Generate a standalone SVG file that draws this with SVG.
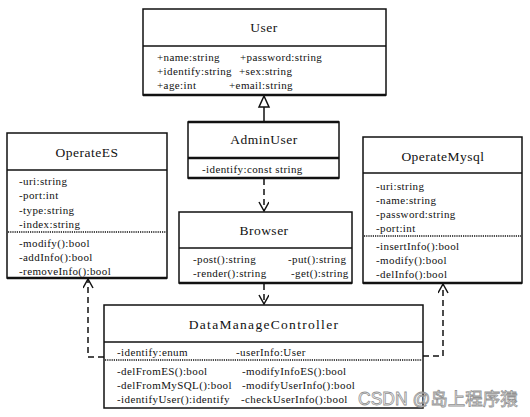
<svg xmlns="http://www.w3.org/2000/svg" width="530" height="417" viewBox="0 0 530 417">
<style>
.box{fill:#fff;stroke:#111;stroke-width:1.5}
.heavy{stroke:#111;stroke-width:2.5}
.div{stroke:#111;stroke-width:1.3}
.dot{stroke:#111;stroke-width:1.5;stroke-dasharray:1.2 1}
.t{font-family:"Liberation Serif","Times New Roman",serif;font-size:13.5px;letter-spacing:0.5px;fill:#111;text-anchor:middle}
.a{font-family:"Liberation Serif","Times New Roman",serif;font-size:11px;letter-spacing:0.4px;fill:#111}
.dash{fill:none;stroke:#111;stroke-width:1.5;stroke-dasharray:6 4}
.solid{fill:none;stroke:#111;stroke-width:1.5}
.wm{font-family:"Liberation Sans","Noto Sans CJK SC",sans-serif;font-size:17.5px;fill:#fff;stroke:#888;stroke-width:0.8;opacity:0.9}
</style>
<defs>
<marker id="open" markerWidth="12" markerHeight="12" refX="10" refY="5" orient="auto" markerUnits="userSpaceOnUse">
<path d="M1,0 L10,5 L1,10" fill="none" stroke="#111" stroke-width="1.5"/>
</marker>
</defs>
<g id="connectors">
<line class="solid" x1="264" y1="122" x2="264" y2="107"/>
<path d="M264,96 L259,107 L269,107 Z" fill="#fff" stroke="#111" stroke-width="1.5"/>
<line class="dash" x1="264" y1="179" x2="264" y2="211" marker-end="url(#open)"/>
<line class="dash" x1="264" y1="284" x2="264" y2="304" marker-end="url(#open)"/>
<polyline class="dash" points="104,357 88,357 88,279" marker-end="url(#open)"/>
<polyline class="dash" points="423,356 443,356 443,284" marker-end="url(#open)"/>
</g>
<g id="User">
<rect class="box" x="143" y="9" width="243" height="86"/>
<line class="div" x1="143" y1="46" x2="386" y2="46"/>
<line class="heavy" x1="143" y1="95" x2="386" y2="95"/>
<text class="t" x="264" y="32">User</text>
<text class="a" x="157" y="61">+name:string</text>
<text class="a" x="240" y="61">+password:string</text>
<text class="a" x="157" y="75">+identify:string</text>
<text class="a" x="239" y="75">+sex:string</text>
<text class="a" x="157" y="89">+age:int</text>
<text class="a" x="229" y="89">+email:string</text>
</g>
<g id="AdminUser">
<rect class="box" x="188" y="122" width="151" height="56"/>
<line class="heavy" x1="188" y1="122" x2="339" y2="122"/>
<line class="heavy" x1="188" y1="158" x2="339" y2="158"/>
<line class="heavy" x1="188" y1="178" x2="339" y2="178"/>
<text class="t" x="264" y="144">AdminUser</text>
<text class="a" x="202" y="173">-identify:const string</text>
</g>
<g id="Browser">
<rect class="box" x="179" y="212" width="173" height="71"/>
<line class="div" x1="179" y1="248" x2="352" y2="248"/>
<line class="heavy" x1="179" y1="283" x2="352" y2="283"/>
<text class="t" x="264" y="235">Browser</text>
<text class="a" x="193" y="263">-post():string</text>
<text class="a" x="288" y="263">-put():string</text>
<text class="a" x="193" y="277">-render():string</text>
<text class="a" x="291" y="277">-get():string</text>
</g>
<g id="OperateES">
<rect class="box" x="7" y="133" width="160" height="145"/>
<line class="div" x1="7" y1="170" x2="167" y2="170"/>
<line class="dot" x1="8" y1="232" x2="166" y2="232"/>
<line class="heavy" x1="7" y1="278" x2="167" y2="278"/>
<text class="t" x="87" y="157">OperateES</text>
<text class="a" x="19" y="185">-uri:string</text>
<text class="a" x="19" y="199">-port:int</text>
<text class="a" x="19" y="214">-type:string</text>
<text class="a" x="19" y="228">-index:string</text>
<text class="a" x="19" y="247">-modify():bool</text>
<text class="a" x="19" y="261">-addInfo():bool</text>
<text class="a" x="19" y="275">-removeInfo():bool</text>
</g>
<g id="OperateMysql">
<rect class="box" x="363" y="137" width="159" height="146"/>
<line class="div" x1="363" y1="173" x2="522" y2="173"/>
<line class="dot" x1="364" y1="236" x2="521" y2="236"/>
<line class="heavy" x1="363" y1="283" x2="522" y2="283"/>
<text class="t" x="443" y="161">OperateMysql</text>
<text class="a" x="376" y="190">-uri:string</text>
<text class="a" x="376" y="204">-name:string</text>
<text class="a" x="376" y="218">-password:string</text>
<text class="a" x="376" y="232">-port:int</text>
<text class="a" x="376" y="250">-insertInfo():bool</text>
<text class="a" x="376" y="264">-modify():bool</text>
<text class="a" x="376" y="278">-delInfo():bool</text>
</g>
<g id="DataManageController">
<rect class="box" x="104" y="305" width="319" height="103"/>
<line class="div" x1="104" y1="342" x2="423" y2="342"/>
<line class="dot" x1="105" y1="360" x2="422" y2="360"/>
<text class="t" x="264" y="329" style="letter-spacing:1.3px">DataManageController</text>
<text class="a" x="117" y="356">-identify:enum</text>
<text class="a" x="236" y="356">-userInfo:User</text>
<text class="a" x="117" y="375">-delFromES():bool</text>
<text class="a" x="242" y="375">-modifyInfoES():bool</text>
<text class="a" x="117" y="389">-delFromMySQL():bool</text>
<text class="a" x="242" y="389">-modifyUserInfo():bool</text>
<text class="a" x="117" y="403">-identifyUser():identify</text>
<text class="a" x="241" y="403">-checkUserInfo():bool</text>
</g>
<text class="wm" x="358" y="405">CSDN @岛上程序猿</text>
</svg>
